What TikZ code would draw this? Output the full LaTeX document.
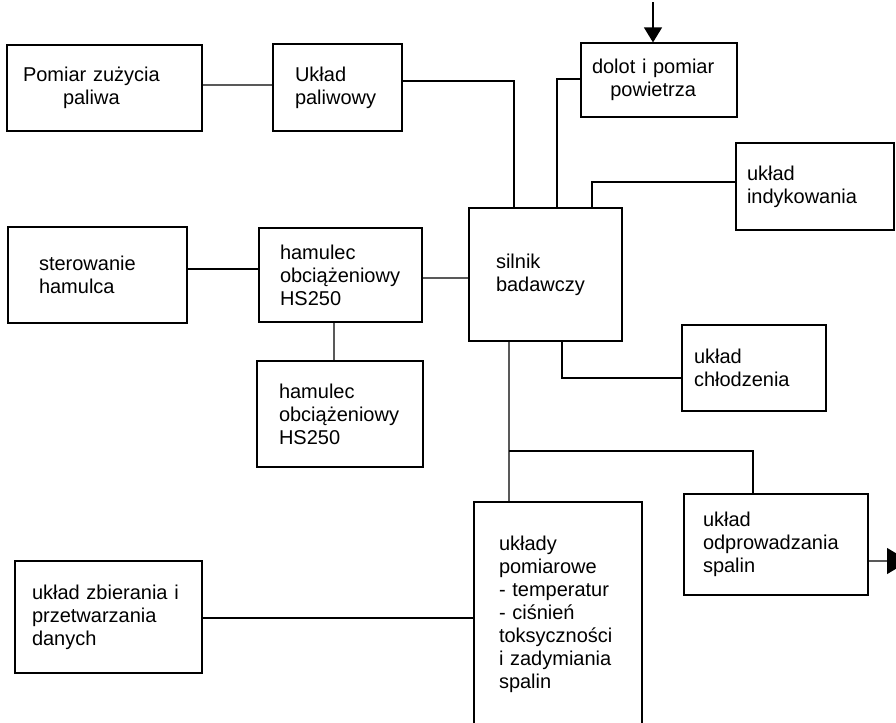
\documentclass[tikz,border=0pt]{standalone}
\usepackage{fontspec}
\setmainfont{Liberation Sans}
\usetikzlibrary{arrows.meta}

\begin{document}
\begin{tikzpicture}[
    x=0.75pt,
    y=-0.75pt,
    box/.style={
        draw=black,
        line width=0.9pt,
        align=left,
        inner ysep=0pt,
        font=\fontsize{15pt}{17.25pt}\selectfont
    },
    line/.style={
        line width=0.9pt,
        draw=black
    },
    arrow in/.style={
        line,
        -{Triangle[length=11.25pt,width=13.5pt]}
    },
    arrow out/.style={
        line,
        -{Triangle[length=16.5pt,width=19.5pt]}
    }
]
    \useasboundingbox (0,0) rectangle (896,722);

    % Bloki
    \node[box, text width=122.25pt, inner xsep=12pt, minimum height=64.5pt] (pomiar) at (104.5,88)
        {\begin{tabular}{@{}c@{}}Pomiar zużycia\\paliwa\end{tabular}};
    \node[box, text width=63.75pt, inner xsep=16.5pt, minimum height=65.25pt] (paliwo) at (337.5,87.5)
        {Układ\\paliwowy};
    \node[box, text width=100.5pt, inner xsep=8.25pt, minimum height=55.5pt] (dolot) at (659,80)
        {\begin{tabular}{@{}c@{}}dolot i pomiar\\powietrza\end{tabular}};
    \node[box, text width=102pt, inner xsep=8.25pt, minimum height=65.25pt] (indyk) at (815,186.5)
        {układ\\indykowania};
    \node[box, text width=74.25pt, inner xsep=20.25pt, minimum height=99.75pt] (silnik) at (545.5,274.5)
        {silnik\\badawczy};
    \node[box, text width=87.75pt, inner xsep=23.25pt, minimum height=72pt] (sterow) at (97.5,275)
        {sterowanie\\hamulca};
    \node[box, text width=90.75pt, inner xsep=15.75pt, minimum height=70.5pt] (hamulec1) at (340.5,275)
        {hamulec\\obciążeniowy\\HS250};
    \node[box, text width=91.5pt, inner xsep=16.5pt, minimum height=79.5pt] (hamulec2) at (340,414)
        {hamulec\\obciążeniowy\\HS250};
    \node[box, text width=90pt, inner xsep=9pt, minimum height=64.5pt] (chlodz) at (754,368)
        {układ\\chłodzenia};
    \node[box, text width=109.5pt, inner xsep=14.25pt, minimum height=75.75pt] (spaliny) at (776,544.5)
        {układ\\odprowadzania\\spalin};
    \node[box, text width=88.5pt, inner xsep=18.75pt, minimum height=168pt] (pomiary) at (558,614)
        {układy\\pomiarowe\\- temperatur\\- ciśnień\\toksyczności\\i zadymiania\\spalin};
    \node[box, text width=114.75pt, inner xsep=12.75pt, minimum height=84pt] (dane) at (108.5,617)
        {układ zbierania i\\przetwarzania\\danych};

    % Punkty pomocnicze
    \coordinate (wlot) at (653,2);
    \coordinate (wylot) at (909,561);
    \coordinate (rozgal) at (509,451);

    % Połączenia
    \draw[line] ([yshift=2.25pt]pomiar.east) -- ([yshift=1.9pt]paliwo.west);
    \draw[line] ([yshift=4.9pt]paliwo.east) -| ([xshift=-23.6pt]silnik.north);
    \draw[arrow in] (wlot) -- ([xshift=-4.5pt]dolot.north);
    \draw[line] ([yshift=0.75pt]dolot.west) -| ([xshift=8.6pt]silnik.north);
    \draw[line] ([xshift=34.9pt]silnik.north) |- ([yshift=3.4pt]indyk.west);
    \draw[line] ([yshift=4.5pt]sterow.east) -- ([yshift=4.5pt]hamulec1.west);
    \draw[line] ([yshift=-2.25pt]hamulec1.east) -- ([yshift=-2.6pt]silnik.west);
    \draw[line] ([xshift=-4.9pt]hamulec1.south) -- ([xshift=-4.5pt]hamulec2.north);
    \draw[line] ([xshift=12.4pt]silnik.south) |- ([yshift=-7.5pt]chlodz.west);
    \draw[line] ([xshift=-27.4pt]silnik.south) -- ([xshift=-36.75pt]pomiary.north);
    \draw[line] (rozgal) -| ([xshift=-17.25pt]spaliny.north);
    \draw[arrow out] ([yshift=-12.4pt]spaliny.east) -- (wylot);
    \draw[line] ([yshift=-0.75pt]dane.east) -- ([yshift=-3pt]pomiary.west);

\end{tikzpicture}
\end{document}
